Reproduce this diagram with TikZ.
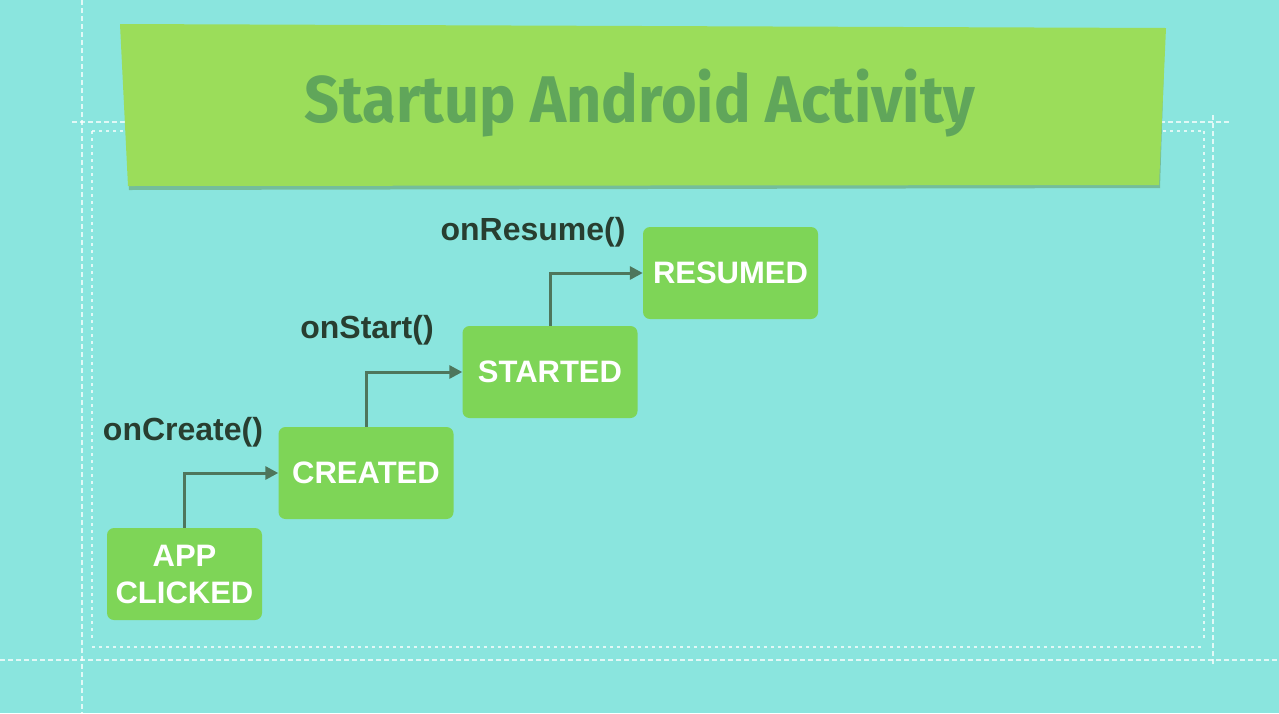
\documentclass[tikz,border=0pt]{standalone}
\usepackage{fontspec}
\setmainfont{Liberation Sans}
\newfontfamily\titlefont{Fira Sans}
\usetikzlibrary{arrows.meta}
\definecolor{bg}{RGB}{138,229,222}
\definecolor{banner}{RGB}{155,221,90}
\definecolor{bannershadow}{RGB}{95,150,90}
\definecolor{titlegreen}{RGB}{96,166,90}
\definecolor{boxgreen}{RGB}{126,213,87}
\definecolor{arrowcol}{RGB}{78,118,92}
\definecolor{labelcol}{RGB}{40,62,48}
\tikzset{
  x=1pt,y=-1pt,
  state/.style={fill=boxgreen,rounded corners=7pt,minimum width=175pt,minimum height=92pt,
    text=white,font=\fontsize{31}{37}\selectfont\bfseries,align=center,inner sep=0pt},
  lbl/.style={text=labelcol,font=\fontsize{32}{36}\selectfont\bfseries,inner sep=0pt},
  flow/.style={draw=arrowcol,line width=3pt,-{Triangle[length=13pt,width=13pt]}},
  guide/.style={draw=white,opacity=0.75,line width=2pt,dash pattern=on 5pt off 3pt},
  tri/.style={draw=white,opacity=0.75,line width=2.5pt,dash pattern=on 3pt off 4pt}
}
\begin{document}
\begin{tikzpicture}
\fill[bg] (0,0) rectangle (1279,713);
\useasboundingbox (0,0) rectangle (1279,713);
% guide lines
\draw[guide] (82,0) -- (82,713);
\draw[guide] (0,660) -- (1279,660);
\draw[guide] (72,122) -- (1230,122);
\draw[guide] (1213,115) -- (1213,666);
\draw[tri] (92,131) -- (92,640);
\draw[tri] (92,647) -- (1204,647);
\draw[tri] (1204,131) -- (1204,640);
\draw[tri] (92,131) -- (1204,131);
% banner
\fill[bannershadow,opacity=0.5] (122,30) -- (1165,32) -- (1160,188) -- (129,190) -- cycle;
\fill[banner] (120,24) -- (1166,28) -- (1159,185) -- (128,186) -- cycle;
\node[text=titlegreen,font=\titlefont\fontsize{66}{70}\selectfont\bfseries,inner sep=0pt,xscale=0.927] (title) at (640,103) {Startup Android Activity};
% states
\node[state,minimum width=155pt] (app) at (184.5,574) {APP\\CLICKED};
\node[state] (created) at (366,473) {CREATED};
\node[state] (started) at (550,372) {STARTED};
\node[state] (resumed) at (730.5,273) {RESUMED};
% labels
\node[lbl] (l1) at (183,432) {onCreate()};
\node[lbl] (l2) at (367,330) {onStart()};
\node[lbl] (l3) at (533,232) {onResume()};
% arrows
\draw[flow] (app.north) |- (created.west);
\draw[flow] (created.north) |- (started.west);
\draw[flow] (started.north) |- (resumed.west);
\end{tikzpicture}
\end{document}
